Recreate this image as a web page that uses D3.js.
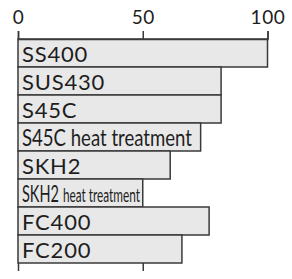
<!DOCTYPE html>
<html>
<head>
<meta charset="utf-8">
<script src="https://cdn.jsdelivr.net/npm/d3@7"></script>
<style>
  html, body { margin: 0; padding: 0; background: #fff; }
  svg { display: block; }
</style>
</head>
<body>
<svg id="chart" width="292" height="279"></svg>
<script>
// ---- data ----
const categories = ["SS400", "SUS430", "S45C", "S45C heat treatment", "SKH2", "SKH2 heat treatment", "FC400", "FC200"];
const values = [100, 81.4, 81.4, 73.2, 61, 50, 76.6, 65.7];
const tickValues = [0, 50, 100];
const bottomTickValues = [0, 50];

// ---- label style (condensed rendering of long labels) ----
// each entry: list of parts [text, fontSize, targetWidth or null]
const labelParts = [
  [["SS400", 22, null]],
  [["SUS430", 22, null]],
  [["S45C", 22, null]],
  [["S45C heat treatment", 23, 170]],
  [["SKH2", 22, null]],
  [["SKH2", 23, 37], ["heat treatment", 19, 77]],
  [["FC400", 22, null]],
  [["FC200", 22, null]]
];

const svg = d3.select("#chart");
const margin = { left: 18, right: 24.5, top: 39, bottom: 16 };
const W = 292, H = 279;

const x = d3.scaleLinear().domain([0, 100]).range([margin.left, W - margin.right]);
const y = d3.scaleBand().domain(categories).range([margin.top, H - margin.bottom]).padding(0);

const data = categories.map((c, i) => ({ c, v: values[i], parts: labelParts[i] }));

// bars
svg.append("g").selectAll("rect").data(data).join("rect")
  .attr("x", x(0))
  .attr("y", d => y(d.c))
  .attr("width", d => x(d.v) - x(0))
  .attr("height", y.bandwidth())
  .attr("fill", "#e8e8e8")
  .attr("stroke", "#3a3a3a")
  .attr("stroke-width", 1.5);

// labels
const font = "Lato, 'Open Sans', sans-serif";
data.forEach(d => {
  const base = y(d.c) + y.bandwidth() - 5.5;
  let cx = x(0) + 4;
  d.parts.forEach((p, j) => {
    const t = svg.append("text")
      .attr("font-family", font)
      .attr("font-size", p[1])
      .attr("letter-spacing", p[2] ? 0 : 0.8)
      .attr("fill", "#1e1e1e")
      .text(p[0]);
    const w0 = t.node().getComputedTextLength();
    const sx = p[2] ? p[2] / w0 : 1;
    t.attr("transform", `translate(${cx},${base}) scale(${sx},1)`);
    cx += w0 * sx + 4;
  });
});

// top axis
const topAxis = svg.append("g")
  .attr("transform", `translate(0,${margin.top})`)
  .call(d3.axisTop(x).tickValues(tickValues).tickSize(8).tickPadding(7).tickFormat(d3.format("d")));
topAxis.select(".domain").attr("stroke", "#3a3a3a").attr("stroke-width", 1.5);
topAxis.selectAll(".tick line").attr("stroke", "#3a3a3a").attr("stroke-width", 1.5);
topAxis.selectAll(".tick text")
  .attr("font-family", font)
  .attr("font-size", 19)
  .attr("letter-spacing", 0.6)
  .attr("fill", "#1e1e1e");

// bottom axis (ticks only)
const bottomAxis = svg.append("g")
  .attr("transform", `translate(0,${H - margin.bottom})`)
  .call(d3.axisBottom(x).tickValues(bottomTickValues).tickSize(8).tickFormat(""));
bottomAxis.select(".domain").remove();
bottomAxis.selectAll(".tick line").attr("stroke", "#3a3a3a").attr("stroke-width", 1.5);
</script>
</body>
</html>
